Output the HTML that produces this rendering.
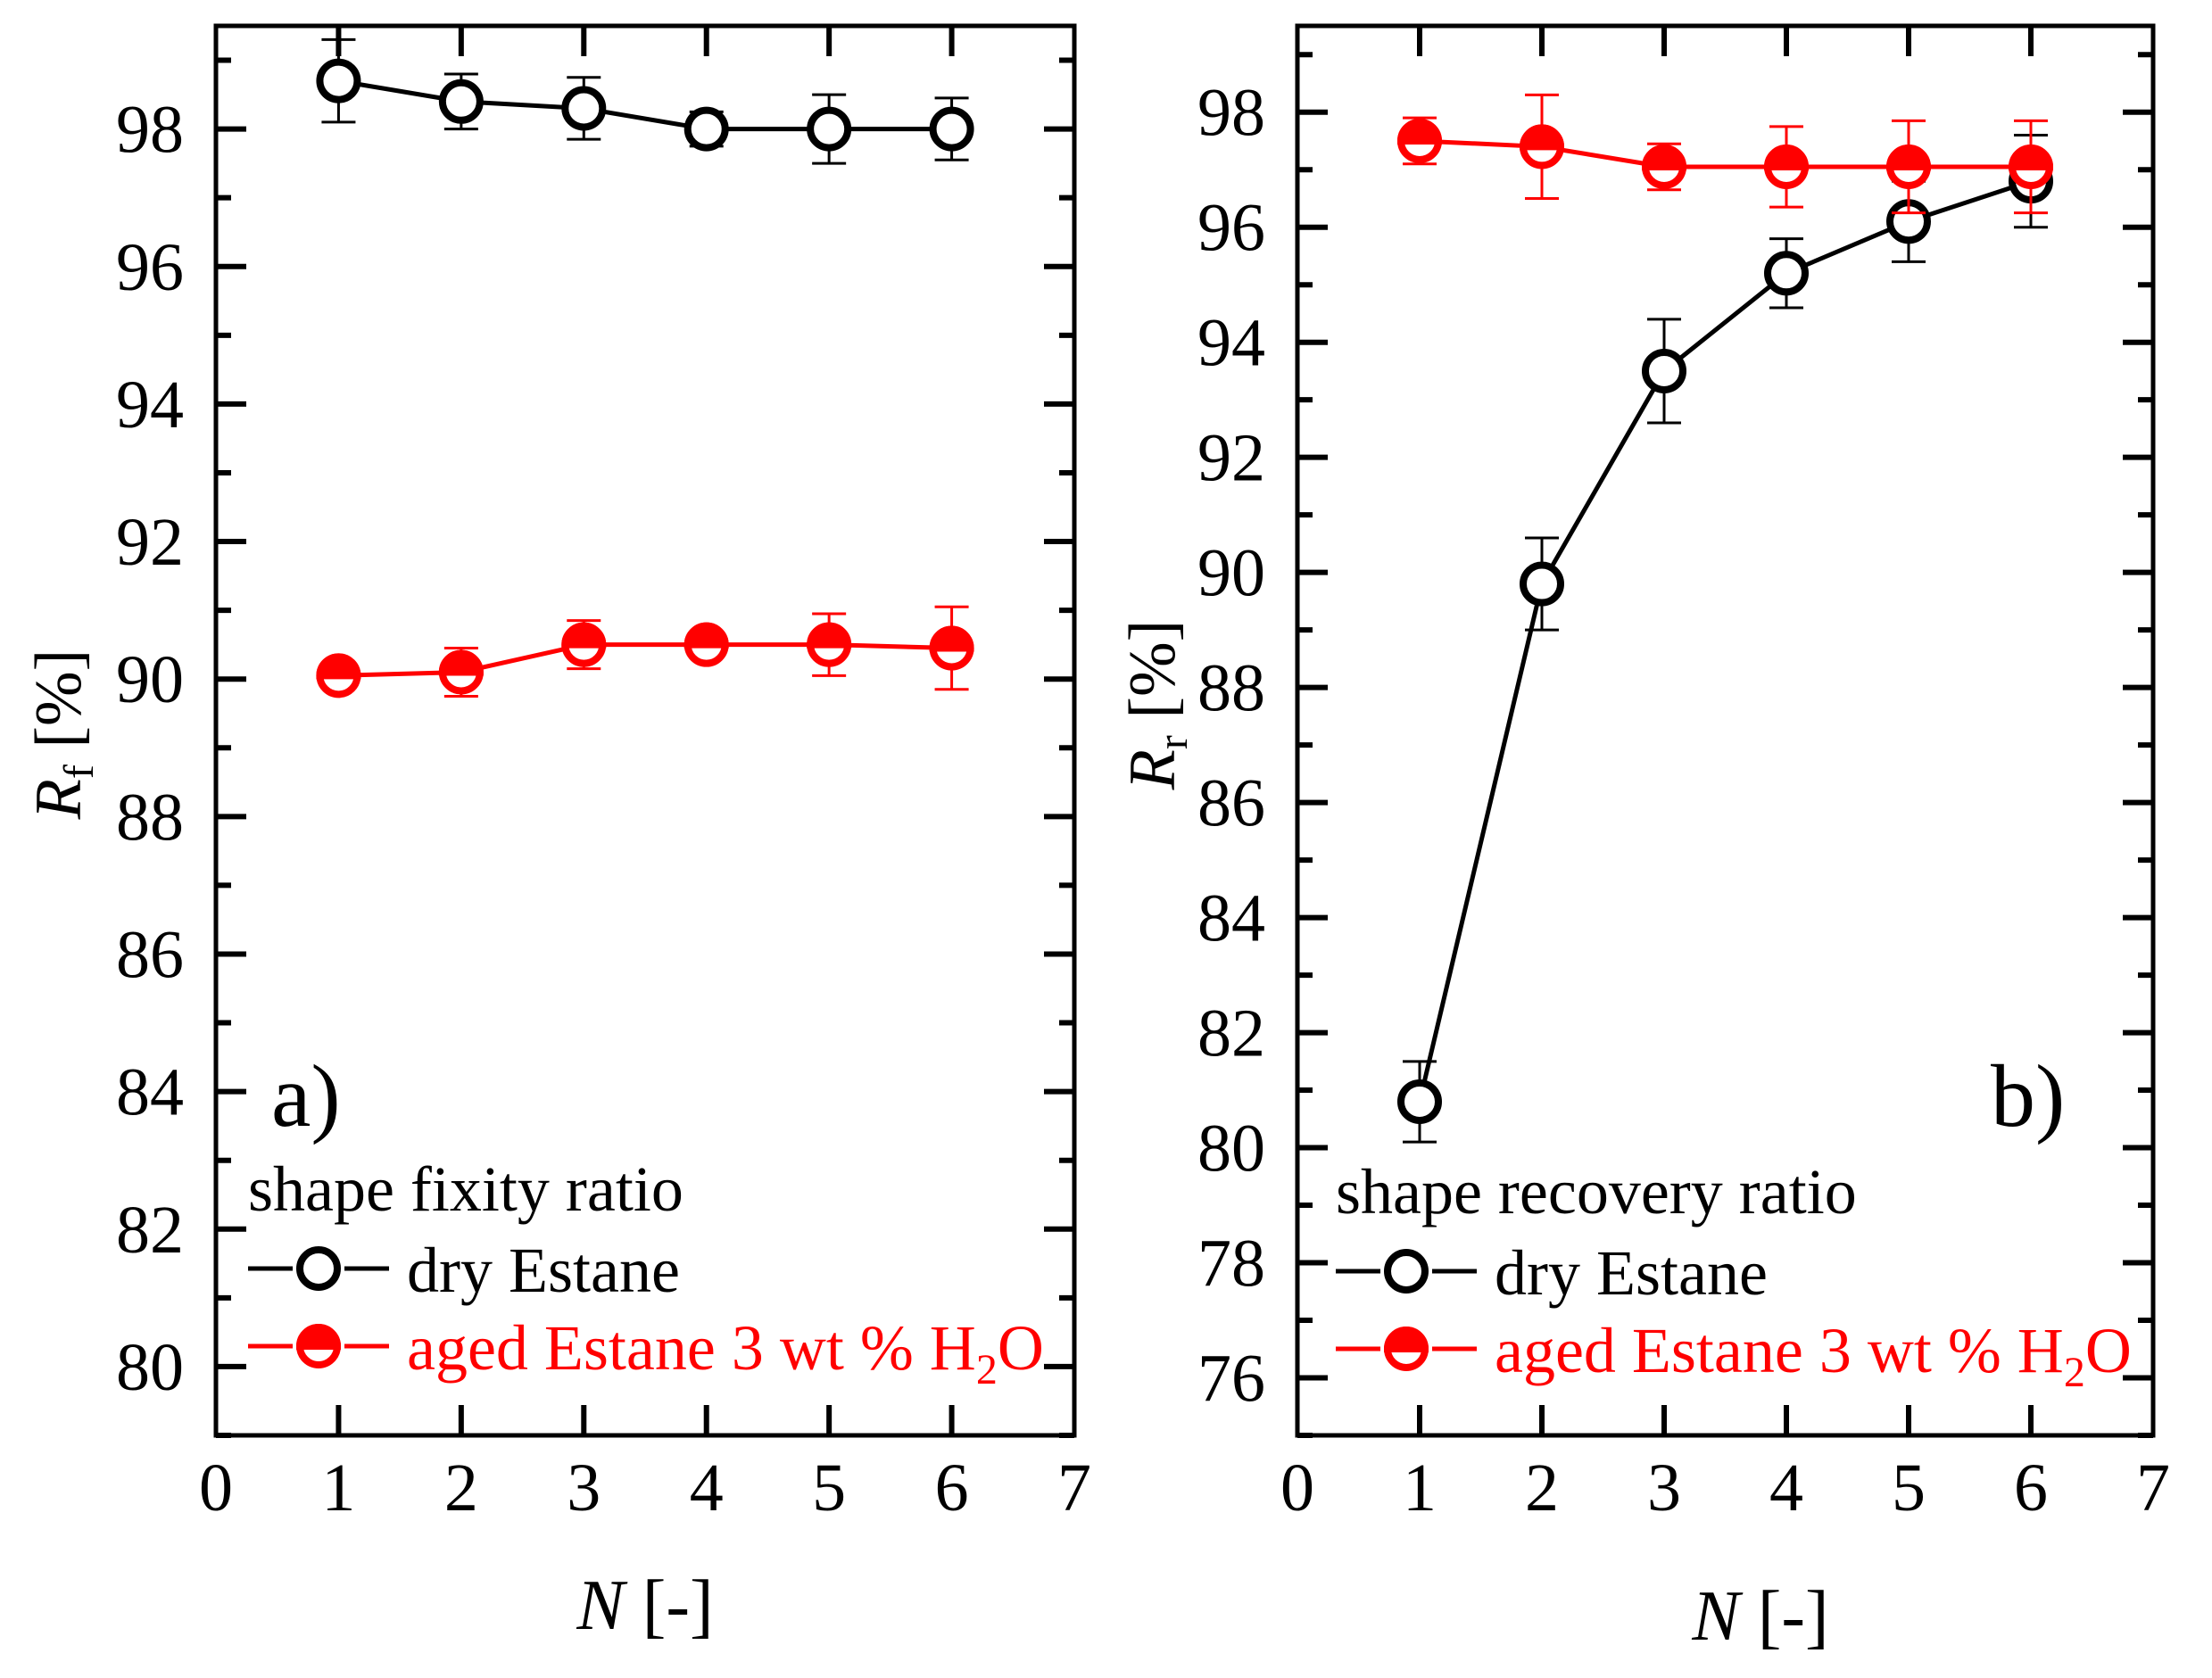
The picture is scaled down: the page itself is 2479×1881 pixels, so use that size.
<!DOCTYPE html>
<html><head><meta charset="utf-8"><style>
html,body{margin:0;padding:0;background:#fff;}
svg{display:block;}
text{font-family:"Liberation Serif",serif;}
</style></head>
<body>
<svg id="fig" width="2479" height="1881" viewBox="0 0 2479 1881" xmlns="http://www.w3.org/2000/svg"></svg>
<script>
const xValues = [1, 2, 3, 4, 5, 6];
const xTicks = [0, 1, 2, 3, 4, 5, 6, 7];
// panel a
const aDry = [98.7, 98.4, 98.3, 98.0, 98.0, 98.0];
const aDryErr = [0.6, 0.4, 0.45, 0.25, 0.5, 0.45];
const aAged = [90.05, 90.1, 90.5, 90.5, 90.5, 90.45];
const aAgedErr = [0.1, 0.35, 0.35, 0.1, 0.45, 0.6];
const aYTicks = [80, 82, 84, 86, 88, 90, 92, 94, 96, 98];
// panel b
const bDry = [80.8, 89.8, 93.5, 95.2, 96.1, 96.8];
const bDryErr = [0.7, 0.8, 0.9, 0.6, 0.7, 0.8];
const bAged = [97.5, 97.4, 97.05, 97.05, 97.05, 97.05];
const bAgedErr = [0.4, 0.9, 0.4, 0.7, 0.8, 0.8];
const bYTicks = [76, 78, 80, 82, 84, 86, 88, 90, 92, 94, 96, 98];

const NS = "http://www.w3.org/2000/svg";
const svg = document.getElementById('fig');
function el(tag, attrs, parent, txt) {
  const e = document.createElementNS(NS, tag);
  for (const k in attrs) e.setAttribute(k, attrs[k]);
  if (txt !== undefined) e.textContent = txt;
  (parent || svg).appendChild(e);
  return e;
}
const RED = '#ff0000';

function marker(g, cx, cy, color, half) {
  const r = 21;
  el('circle', {cx: cx, cy: cy, r: r, fill: '#fff', stroke: color, 'stroke-width': 8}, g);
  if (half) {
    el('path', {d: `M${cx - r} ${cy} A${r} ${r} 0 0 1 ${cx + r} ${cy} Z`, fill: color, stroke: color, 'stroke-width': 8}, g);
  }
}

function panel(o) {
  const L = o.L, R = o.R, T = 29, B = 1609;
  const xs = v => L + (v - 0) / 7 * (R - L);
  const ys = v => B - (v - o.ymin) / (o.ymax - o.ymin) * (B - T);
  const g = el('g', {});
  
  
  const tk = el('g', {stroke: '#000', 'stroke-width': 6}, g);
  
  
  xTicks.forEach(v => {
    if (v > 0 && v < 7) {
      el('line', {x1: xs(v), x2: xs(v), y1: B, y2: B - 34}, tk);
      el('line', {x1: xs(v), x2: xs(v), y1: T, y2: T + 34}, tk);
    }
  });
  for (let v = Math.ceil(o.ymin); v <= o.ymax; v++) {
    const major = o.yTicks.includes(v);
    const len = major ? 34 : 17;
    el('line', {x1: L, x2: L + len, y1: ys(v), y2: ys(v)}, tk);
    el('line', {x1: R, x2: R - len, y1: ys(v), y2: ys(v)}, tk);
  }
  const fr = el('rect', {x: L, y: T, width: R - L, height: B - T, fill: 'none', stroke: '#000', 'stroke-width': 5}, g);
  
  
  xTicks.forEach(v => {
    const t = el('text', {x: xs(v), y: 1693, 'font-size': 76, 'text-anchor': 'middle'}, g, String(v));
    
    
  });
  o.yTicks.forEach(v => {
    const t = el('text', {x: L - 36, y: ys(v) + 26, 'font-size': 76, 'text-anchor': 'end'}, g, String(v));
    
    
  });
  const xt = el('text', {x: o.xtX, y: o.xtY, 'font-size': 80, 'text-anchor': 'middle'}, g);
  
  
  el('tspan', {'font-style': 'italic'}, xt, 'N');
  el('tspan', {}, xt, ' [-]');
  const yt = el('text', {x: 0, y: 0, 'font-size': 74, 'text-anchor': 'middle', transform: `translate(${o.ytX},${o.ytY}) rotate(-90)`}, g);
  
  
  el('tspan', {'font-style': 'italic'}, yt, 'R');
  el('tspan', {'font-size': 48, dy: 14}, yt, o.sub);
  el('tspan', {dy: -14}, yt, ' [%]');
  [[o.dry, o.dryErr, '#000', false, 'dry-series'], [o.aged, o.agedErr, RED, true, 'aged-series']].forEach(s => {
    const sg = el('g', {}, g);
    
    
    const pts = xValues.map((x, i) => [xs(x), ys(s[0][i])]);
    el('polyline', {points: pts.map(p => p.join(',')).join(' '), fill: 'none', stroke: s[2], 'stroke-width': 5}, sg);
    xValues.forEach((x, i) => {
      const cx = xs(x), hi = ys(s[0][i] + s[1][i]), lo = ys(s[0][i] - s[1][i]);
      const eb = el('g', {stroke: s[2], 'stroke-width': 3}, sg);
      
      
      el('line', {x1: cx, x2: cx, y1: hi, y2: lo}, eb);
      el('line', {x1: cx - 19, x2: cx + 19, y1: hi, y2: hi}, eb);
      el('line', {x1: cx - 19, x2: cx + 19, y1: lo, y2: lo}, eb);
    });
    xValues.forEach((x, i) => {
      const mg = el('g', {}, sg);
      
      
      marker(mg, pts[i][0], pts[i][1], s[2], s[3]);
    });
  });
  const pl = el('text', {x: o.plX, y: 1262, 'font-size': 100}, g, o.label);
  
  
  const lg = el('g', {}, g);
  
  
  const lx = o.lgX;
  const lt = el('text', {x: lx, y: o.lgY, 'font-size': 72}, lg, o.lgTitle);
  
  
  [[o.lgY + 65, '#000', false, 'dry Estane'], [o.lgY + 152, RED, true, null]].forEach(r => {
    const eg = el('g', {}, lg);
    
    
    el('line', {x1: lx, x2: lx + 158, y1: r[0], y2: r[0], stroke: r[1], 'stroke-width': 5}, eg);
    el('rect', {x: lx + 50, y: r[0] - 4, width: 58, height: 8, fill: '#fff'}, eg);
    marker(eg, lx + 79, r[0], r[1], r[2]);
    const t = el('text', {x: lx + 178, y: r[0] + 26, 'font-size': 72, fill: r[1]}, eg);
    if (r[3]) t.textContent = r[3];
    else {
      el('tspan', {}, t, 'aged Estane 3 wt % H');
      el('tspan', {'font-size': 48, dy: 16}, t, '2');
      el('tspan', {dy: -16}, t, 'O');
    }
  });
}

panel({name: 'panel-a-fixity', L: 242, R: 1204, ymin: 79, ymax: 99.5, yTicks: aYTicks,
  dry: aDry, dryErr: aDryErr, aged: aAged, agedErr: aAgedErr, sub: 'f',
  xtX: 723, xtY: 1826, ytX: 90, ytY: 823, plX: 304, label: 'a)', lgX: 278, lgY: 1357, lgTitle: 'shape fixity ratio'});
panel({name: 'panel-b-recovery', L: 1454, R: 2413, ymin: 75, ymax: 99.5, yTicks: bYTicks,
  dry: bDry, dryErr: bDryErr, aged: bAged, agedErr: bAgedErr, sub: 'r',
  xtX: 1973, xtY: 1838, ytX: 1316, ytY: 790, plX: 2231, label: 'b)', lgX: 1497, lgY: 1360, lgTitle: 'shape recovery ratio'});
</script>
</body></html>
